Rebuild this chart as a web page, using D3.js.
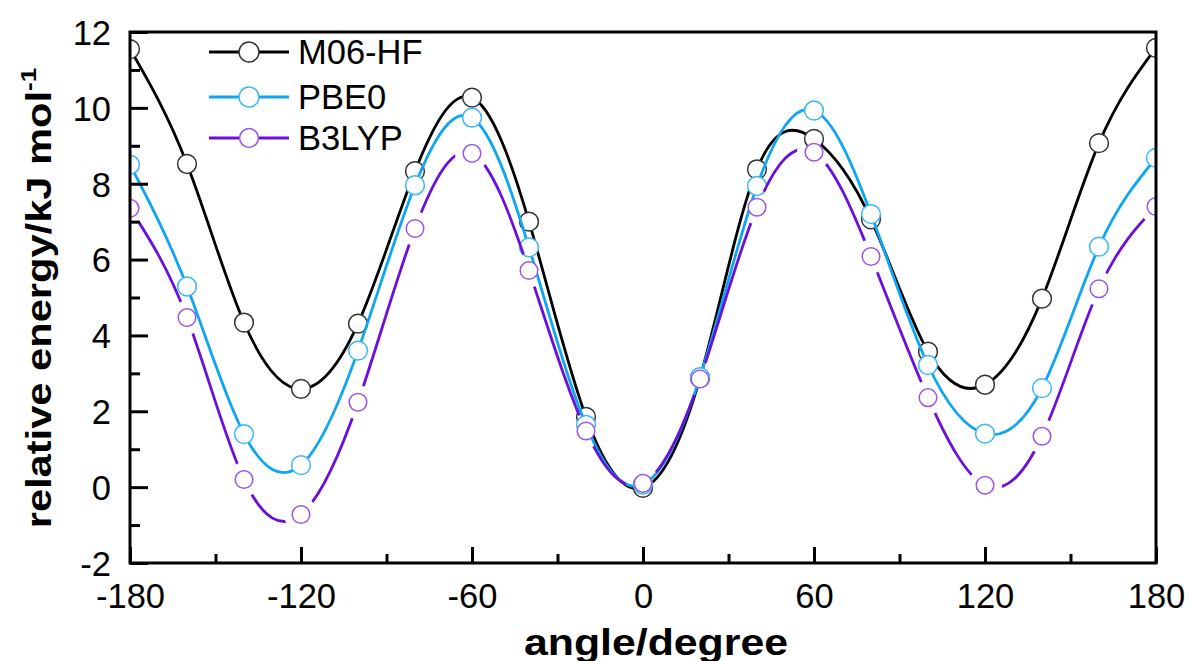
<!DOCTYPE html>
<html>
<head>
<meta charset="utf-8">
<script src="https://cdn.jsdelivr.net/npm/d3@7"></script>
<style>
  body { margin: 0; background: #fff; }
  text { font-family: Arial, "Liberation Sans", sans-serif; }
</style>
</head>
<body>
<div id="chart"></div>
<script>
// torsion scan, energies in kJ/mol
var angles = [-180, -160, -140, -120, -100, -80, -60, -40, -20, 0, 20, 40, 60, 80, 100, 120, 140, 160, 180];
var m06hf = [11.55, 8.52, 4.34, 2.59, 4.31, 8.33, 10.27, 7.0, 1.85, -0.02, 2.88, 8.38, 9.18, 7.06, 3.57, 2.7, 4.97, 9.07, 11.58];
var pbe0 = [8.5, 5.29, 1.4, 0.58, 3.6, 7.96, 9.74, 6.32, 1.64, 0.07, 2.9, 7.94, 9.93, 7.2, 3.22, 1.41, 2.61, 6.34, 8.68];
var b3lyp = [7.35, 4.47, 0.2, -0.72, 2.24, 6.82, 8.8, 5.71, 1.48, 0.1, 2.85, 7.38, 8.83, 6.08, 2.36, 0.05, 1.34, 5.23, 7.4];

var seriesNames = ['M06-HF', 'PBE0', 'B3LYP'];
var xTicks = [-180, -120, -60, 0, 60, 120, 180];
var yTicks = [-2, 0, 2, 4, 6, 8, 10, 12];

var width = 1189, height = 661;
var pLeft = 130, pRight = 1156, pTop = 32, pBottom = 563;

var x = d3.scaleLinear().domain([-180, 180]).range([pLeft, pRight]);
var y = d3.scaleLinear().domain([-2, 12]).range([pBottom, pTop]);

var svg = d3.select('#chart').append('svg')
    .attr('width', width)
    .attr('height', height);

var defs = svg.append('defs');
defs.append('clipPath').attr('id', 'plotclip')
    .append('rect')
    .attr('x', pLeft).attr('y', pTop)
    .attr('width', pRight - pLeft).attr('height', pBottom - pTop);

// gaps round the B3LYP symbols
var mask = defs.append('mask').attr('id', 'gapmask')
    .attr('maskUnits', 'userSpaceOnUse')
    .attr('x', 0).attr('y', 0).attr('width', width).attr('height', height);
mask.append('rect').attr('x', 0).attr('y', 0).attr('width', width).attr('height', height).attr('fill', '#fff');
mask.selectAll('circle').data(angles).enter().append('circle')
    .attr('cx', function (d) { return x(d); })
    .attr('cy', function (d, i) { return y(b3lyp[i]); })
    .attr('r', 17)
    .attr('fill', '#000');

var series = [
    { name: seriesNames[0], vals: m06hf, line: '#000000', mark: '#333333', r: 9.4, gap: false },
    { name: seriesNames[1], vals: pbe0, line: '#0ea5f2', mark: '#3bb8f5', r: 9.4, gap: false },
    { name: seriesNames[2], vals: b3lyp, line: '#6a0fdc', mark: '#9a55ee', r: 8.8, gap: true }
];

var line = d3.line()
    .x(function (d) { return x(d[0]); })
    .y(function (d) { return y(d[1]); })
    .curve(d3.curveNatural);

var plot = svg.append('g').attr('clip-path', 'url(#plotclip)');

series.forEach(function (s) {
    var pts = angles.map(function (a, i) { return [a, s.vals[i]]; });
    var g = plot.append('g');
    g.append('path')
        .datum(pts)
        .attr('d', line)
        .attr('fill', 'none')
        .attr('stroke', s.line)
        .attr('stroke-width', 2.8)
        .attr('mask', s.gap ? 'url(#gapmask)' : null);
    g.selectAll('circle').data(pts).enter().append('circle')
        .attr('cx', function (d) { return x(d[0]); })
        .attr('cy', function (d) { return y(d[1]); })
        .attr('r', s.r)
        .attr('fill', '#fff')
        .attr('stroke', s.mark)
        .attr('stroke-width', 1.5);
});

// axes, ticks pointing inward
var xAxis = svg.append('g').attr('transform', 'translate(0,' + pBottom + ')')
    .call(d3.axisBottom(x).tickValues(xTicks).tickSize(-16).tickPadding(0).tickFormat(d3.format('d')));
svg.append('g').attr('transform', 'translate(0,' + pBottom + ')')
    .call(d3.axisBottom(x).tickValues(d3.range(-150, 180, 60)).tickSize(-9).tickFormat(''));
var yAxis = svg.append('g').attr('transform', 'translate(' + pLeft + ',0)')
    .call(d3.axisLeft(y).tickValues(yTicks).tickSize(-18).tickPadding(0).tickFormat(d3.format('d')));
svg.append('g').attr('transform', 'translate(' + pLeft + ',0)')
    .call(d3.axisLeft(y).tickValues(d3.range(-1, 12, 2)).tickSize(-10).tickFormat(''));

svg.selectAll('.domain').remove();
svg.selectAll('.tick line').attr('stroke', '#000').attr('stroke-width', 3);

xAxis.selectAll('.tick text')
    .attr('y', 45)
    .attr('dy', 0)
    .attr('font-size', 34.5)
    .attr('fill', '#000')
    .text(function (d) { return d; });
yAxis.selectAll('.tick text')
    .attr('x', -19)
    .attr('dy', '0.36em')
    .attr('font-size', 34.5)
    .attr('fill', '#000')
    .text(function (d) { return d; });

svg.append('rect')
    .attr('x', pLeft).attr('y', pTop)
    .attr('width', pRight - pLeft).attr('height', pBottom - pTop)
    .attr('fill', 'none')
    .attr('stroke', '#000')
    .attr('stroke-width', 3);

// titles
svg.append('text')
    .attr('transform', 'translate(656,655) scale(1.19,1)')
    .attr('text-anchor', 'middle')
    .attr('font-size', 36)
    .attr('font-weight', 'bold')
    .text('angle/degree');

var yt = svg.append('text')
    .attr('transform', 'translate(51,298) rotate(-90) scale(1.19,1)')
    .attr('text-anchor', 'middle')
    .attr('font-size', 35)
    .attr('font-weight', 'bold');
yt.append('tspan').text('relative energy/kJ mol');
yt.append('tspan').attr('font-size', 22).attr('dy', -15).text('-1');

// legend
var legend = svg.append('g');
var rows = [52, 97, 138];
series.forEach(function (s, i) {
    var g = legend.append('g').attr('transform', 'translate(0,' + rows[i] + ')');
    g.append('line')
        .attr('x1', 209).attr('x2', 289)
        .attr('stroke', s.line).attr('stroke-width', 2.8);
    g.append('circle')
        .attr('cx', 249).attr('r', s.r + 0.6)
        .attr('fill', '#fff').attr('stroke', s.mark).attr('stroke-width', 1.5);
    g.append('text')
        .attr('x', 298).attr('y', 12)
        .attr('font-size', 34.5)
        .text(s.name);
});
</script>
</body>
</html>
